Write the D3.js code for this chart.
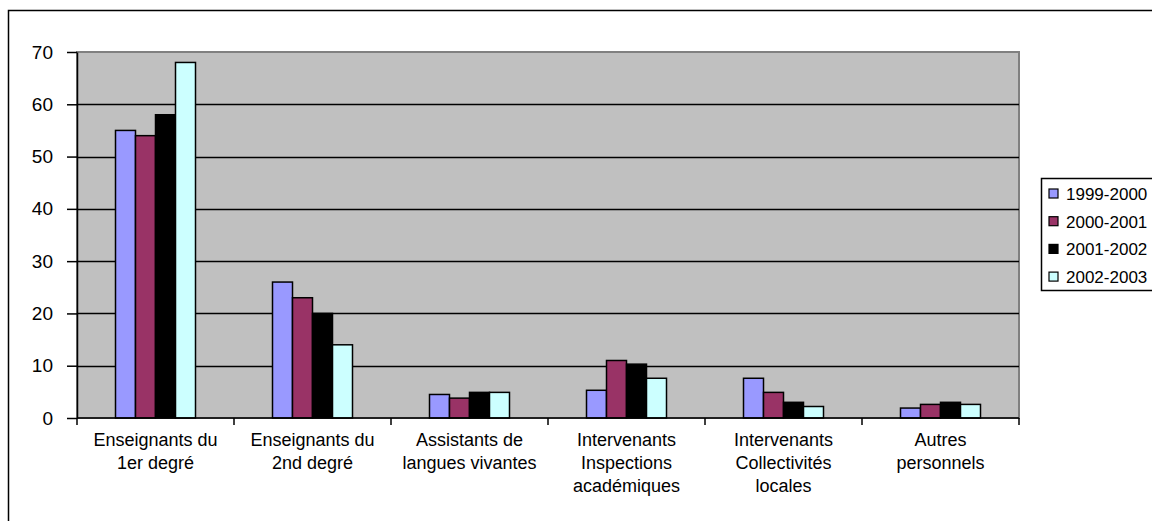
<!DOCTYPE html>
<html>
<head>
<meta charset="utf-8">
<script src="https://cdn.jsdelivr.net/npm/d3@7"></script>
<style>
  body { margin: 0; background: #ffffff; }
  svg { display: block; font-family: "Liberation Sans", Arial, sans-serif; }
</style>
</head>
<body>
<div id="chart"></div>
<script>
// data
const categories = [
  ["Enseignants du", "1er degré"],
  ["Enseignants du", "2nd degré"],
  ["Assistants de", "langues vivantes"],
  ["Intervenants", "Inspections", "académiques"],
  ["Intervenants", "Collectivités", "locales"],
  ["Autres", "personnels"]
];
const seriesNames = ["1999-2000", "2000-2001", "2001-2002", "2002-2003"];
const s1999 = [55, 26, 4.5, 5.3, 7.6, 1.9];
const s2000 = [54, 23, 3.8, 11, 4.9, 2.6];
const s2001 = [58, 20, 4.9, 10.3, 3.0, 3.0];
const s2002 = [68, 14, 4.9, 7.6, 2.2, 2.6];
const yTicks = [0, 10, 20, 30, 40, 50, 60, 70];
const colors = ["#9999FF", "#993366", "#000000", "#CCFFFF"];

const W = 1152, H = 521;
const plot = { left: 77, top: 52, right: 1019, bottom: 418 };

const svg = d3.select("#chart").append("svg")
  .attr("width", W).attr("height", H);

// chart frame (runs off the right and bottom of the picture)
svg.append("rect")
  .attr("x", 8.5).attr("y", 10.5)
  .attr("width", 1160).attr("height", 540)
  .attr("fill", "#ffffff").attr("stroke", "#000000").attr("stroke-width", 1.5);

const x0 = d3.scaleBand()
  .domain(d3.range(categories.length))
  .range([plot.left, plot.right])
  .paddingInner(0).paddingOuter(0);

const x1 = d3.scaleBand()
  .domain(d3.range(seriesNames.length))
  .range([0, x0.bandwidth()])
  .paddingOuter(1.925);

const y = d3.scaleLinear().domain([0, 70]).range([plot.bottom, plot.top]);

// plot background
svg.append("rect")
  .attr("x", plot.left).attr("y", plot.top)
  .attr("width", plot.right - plot.left).attr("height", plot.bottom - plot.top)
  .attr("fill", "#C0C0C0").attr("stroke", "#808080").attr("stroke-width", 2);

// gridlines
svg.append("g").selectAll("line")
  .data(yTicks.filter(d => d > 0 && d < 70))
  .enter().append("line")
    .attr("x1", plot.left).attr("x2", plot.right)
    .attr("y1", d => Math.round(y(d)) + 0.5).attr("y2", d => Math.round(y(d)) + 0.5)
    .attr("stroke", "#000000").attr("stroke-width", 1.5);

// bars
const seriesVals = [s1999, s2000, s2001, s2002];
const table = categories.map((c, i) => seriesVals.map((s, j) => ({ cat: i, ser: j, v: s[i] })));

svg.append("g").selectAll("g")
  .data(table)
  .enter().append("g")
    .attr("transform", (d, i) => "translate(" + x0(i) + ",0)")
  .selectAll("rect")
  .data(d => d)
  .enter().append("rect")
    .attr("x", d => x1(d.ser))
    .attr("y", d => y(d.v))
    .attr("width", x1.bandwidth())
    .attr("height", d => y(0) - y(d.v))
    .attr("fill", d => colors[d.ser])
    .attr("stroke", "#000000").attr("stroke-width", 1.5);

// y axis
const yAxis = svg.append("g")
  .attr("transform", "translate(" + plot.left + ",0)")
  .call(d3.axisLeft(y).tickValues(yTicks).tickSize(10).tickPadding(14).tickSizeOuter(0));
yAxis.select(".domain").attr("stroke", "#000000").attr("stroke-width", 1.5);
yAxis.selectAll(".tick line").attr("stroke-width", 1.5);
yAxis.selectAll("text").attr("font-size", 19).attr("fill", "#000000")
  .attr("font-family", "'Liberation Sans', Arial, sans-serif");

// x axis
const xAxisG = svg.append("g").attr("transform", "translate(0," + plot.bottom + ")");
xAxisG.append("line")
  .attr("x1", plot.left).attr("x2", plot.right)
  .attr("stroke", "#000000").attr("stroke-width", 1.5);
xAxisG.selectAll(".xt")
  .data(d3.range(categories.length + 1))
  .enter().append("line")
    .attr("x1", i => i < categories.length ? x0(i) : plot.right)
    .attr("x2", i => i < categories.length ? x0(i) : plot.right)
    .attr("y1", 0).attr("y2", 7)
    .attr("stroke", "#000000").attr("stroke-width", 1.5);

xAxisG.selectAll("text.cat")
  .data(categories)
  .enter().append("text")
    .attr("class", "cat")
    .attr("text-anchor", "middle")
    .attr("font-size", 18)
    .attr("fill", "#000000")
    .attr("transform", (d, i) => "translate(" + (x0(i) + x0.bandwidth() / 2) + ",28)")
  .selectAll("tspan")
  .data(d => d)
  .enter().append("tspan")
    .attr("x", 0)
    .attr("y", (d, k) => k * 23)
    .text(d => d);

// legend
const legend = svg.append("g").attr("transform", "translate(1041,178)");
legend.append("rect")
  .attr("x", 0.5).attr("y", 0.5).attr("width", 130).attr("height", 112)
  .attr("fill", "#ffffff").attr("stroke", "#000000").attr("stroke-width", 1.5);
const li = legend.selectAll("g.item")
  .data(seriesNames)
  .enter().append("g")
    .attr("class", "item")
    .attr("transform", (d, i) => "translate(0," + (16 + i * 27.7) + ")");
li.append("rect")
  .attr("x", 8).attr("y", -5).attr("width", 9).attr("height", 9)
  .attr("fill", (d, i) => colors[i]).attr("stroke", "#000000").attr("stroke-width", 1.2);
li.append("text")
  .attr("x", 25).attr("y", 6)
  .attr("font-size", 17)
  .attr("fill", "#000000")
  .text(d => d);
</script>
</body>
</html>
